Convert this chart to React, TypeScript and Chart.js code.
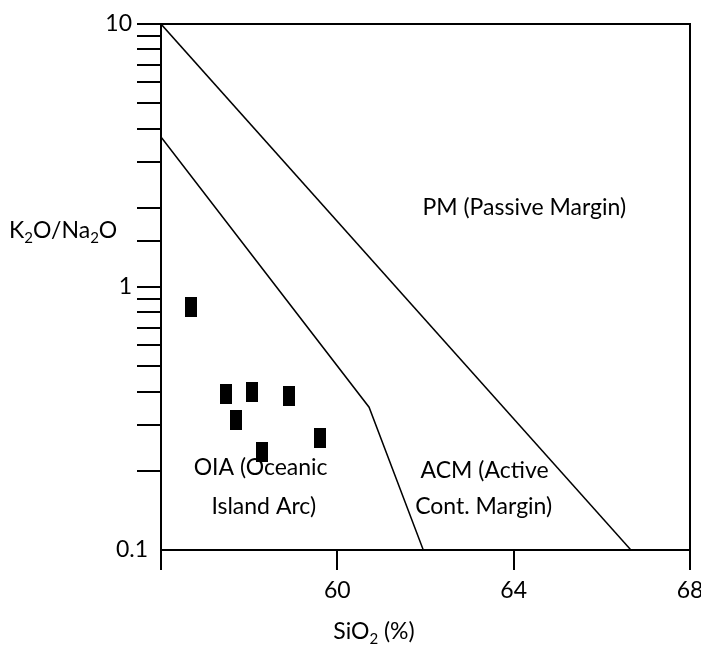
import React, { useEffect, useRef } from "react";
import { Chart, registerables } from "chart.js";

Chart.register(...registerables);

// Samples (SiO2 %, K2O/Na2O)
const sampleSiO2 = [56.68, 57.48, 58.07, 58.91, 57.71, 59.61, 58.3];
const sampleK2ONa2O = [0.841, 0.393, 0.4, 0.385, 0.312, 0.267, 0.236];

// Field boundaries
const pmBoundarySiO2 = [56, 66.66];
const pmBoundaryRatio = [10, 0.1];
const oiaBoundarySiO2 = [56, 60.72, 61.95];
const oiaBoundaryRatio = [3.72, 0.349, 0.1];

// Axes
const xMin = 56;
const xMax = 68;
const xTickValues = [56, 60, 64, 68];
const xTickLabels = ["", "60", "64", "68"];
const yMin = 0.1;
const yMax = 10;
const yLabelledTicks = [0.1, 1, 10];
const yTickLabels = ["0.1", "1", "10"];

// Field labels
const fieldLabels = ["PM (Passive Margin)", "OIA (Oceanic", "Island Arc)", "ACM (Active", "Cont. Margin)"];
const fieldLabelSiO2 = [64.24, 58.26, 58.33, 63.34, 63.32];
const fieldLabelRatio = [2.0, 0.205, 0.1457, 0.2, 0.1457];

const FONT = "Lato";
const FS = 23;

type Run = { t: string; sub?: boolean };

function drawRich(ctx: CanvasRenderingContext2D, runs: Run[], x: number, y: number, size: number, align: "left" | "center") {
  const subSize = Math.round(size * 0.65);
  let total = 0;
  for (const r of runs) {
    ctx.font = `${r.sub ? subSize : size}px ${FONT}`;
    total += ctx.measureText(r.t).width;
  }
  let cx = align === "center" ? x - total / 2 : x;
  ctx.textAlign = "left";
  ctx.textBaseline = "alphabetic";
  for (const r of runs) {
    ctx.font = `${r.sub ? subSize : size}px ${FONT}`;
    ctx.fillText(r.t, cx, r.sub ? y + size * 0.22 : y);
    cx += ctx.measureText(r.t).width;
  }
}

function makeRect(w: number, h: number) {
  const c = document.createElement("canvas");
  c.width = w;
  c.height = h;
  const g = c.getContext("2d")!;
  g.fillStyle = "#000";
  g.fillRect(0, 0, w, h);
  return c;
}

const overlayPlugin = {
  id: "overlay",
  afterDraw(chart: any) {
    const ctx: CanvasRenderingContext2D = chart.ctx;
    const a = chart.chartArea;
    const xs = chart.scales.x;
    const ys = chart.scales.y;
    ctx.save();
    // top and right frame
    ctx.strokeStyle = "#000";
    ctx.lineWidth = 2;
    ctx.beginPath();
    ctx.moveTo(a.left, a.top);
    ctx.lineTo(a.right, a.top);
    ctx.lineTo(a.right, a.bottom);
    ctx.stroke();
    ctx.fillStyle = "#000";
    // y tick labels (the lowest one sits closer to the axis, as there is no tick mark there)
    ctx.font = `${FS}px ${FONT}`;
    ctx.textAlign = "right";
    ctx.textBaseline = "middle";
    yLabelledTicks.forEach((v, i) => {
      const gap = i === 0 ? 13 : 29;
      ctx.fillText(yTickLabels[i], a.left - gap, ys.getPixelForValue(v));
    });
    // field labels
    ctx.textAlign = "center";
    fieldLabels.forEach((t, i) => {
      ctx.fillText(t, xs.getPixelForValue(fieldLabelSiO2[i]), ys.getPixelForValue(fieldLabelRatio[i]));
    });
    // axis titles
    drawRich(ctx, [{ t: "K" }, { t: "2", sub: true }, { t: "O/Na" }, { t: "2", sub: true }, { t: "O" }], 9, 238, FS, "left");
    drawRich(ctx, [{ t: "SiO" }, { t: "2", sub: true }, { t: " (%)" }], 374, 639, FS, "center");
    ctx.restore();
  },
};

export default function App() {
  const ref = useRef<HTMLCanvasElement>(null);

  useEffect(() => {
    const canvas = ref.current!;
    const box = makeRect(12, 20);
    const chart = new Chart(canvas, {
      type: "scatter",
      data: {
        datasets: [
          {
            label: "PM boundary",
            data: pmBoundarySiO2.map((x, i) => ({ x, y: pmBoundaryRatio[i] })),
            showLine: true,
            borderColor: "#000",
            borderWidth: 1.5,
            pointRadius: 0,
            tension: 0,
          },
          {
            label: "OIA boundary",
            data: oiaBoundarySiO2.map((x, i) => ({ x, y: oiaBoundaryRatio[i] })),
            showLine: true,
            borderColor: "#000",
            borderWidth: 1.5,
            pointRadius: 0,
            tension: 0,
          },
          {
            label: "Samples",
            data: sampleSiO2.map((x, i) => ({ x, y: sampleK2ONa2O[i] })),
            showLine: false,
            pointStyle: box as any,
            pointRadius: 10,
            backgroundColor: "#000",
            borderColor: "#000",
          },
        ],
      },
      options: {
        animation: false,
        responsive: false,
        devicePixelRatio: 1,
        layout: { padding: { top: 24, right: 10, left: 0, bottom: 0 } },
        plugins: { legend: { display: false }, tooltip: { enabled: false }, title: { display: false } },
        scales: {
          x: {
            type: "linear",
            min: xMin,
            max: xMax,
            afterBuildTicks: (scale: any) => {
              scale.ticks = xTickValues.map((v) => ({ value: v }));
            },
            afterFit: (scale: any) => {
              scale.height = 102;
              scale.paddingLeft = 0;
              scale.paddingRight = 0;
            },
            ticks: {
              autoSkip: false,
              maxRotation: 0,
              color: "#000",
              font: { family: FONT, size: FS },
              padding: 7,
              callback: (v: any) => {
                const i = xTickValues.indexOf(Number(v));
                return i >= 0 ? xTickLabels[i] : "";
              },
            },
            grid: { drawOnChartArea: false, drawTicks: true, tickLength: 20, color: "#000", lineWidth: 2 },
            border: { display: true, color: "#000", width: 2 },
          },
          y: {
            type: "logarithmic",
            min: yMin,
            max: yMax,
            afterFit: (scale: any) => {
              scale.width = 161;
            },
            ticks: {
              autoSkip: false,
              display: false,
            },
            grid: {
              drawOnChartArea: false,
              drawTicks: true,
              tickLength: 24,
              lineWidth: 2,
              color: (c: any) => (c.tick && Math.abs(c.tick.value - 0.1) < 1e-9 ? "rgba(0,0,0,0)" : "#000"),
            },
            border: { display: true, color: "#000", width: 2 },
          },
        },
      },
      plugins: [overlayPlugin],
    });
    return () => chart.destroy();
  }, []);

  return (
    <div style={{ position: "absolute", left: 0, top: 0, width: 701, height: 652, background: "#fff" }}>
      <canvas ref={ref} width={701} height={652} style={{ display: "block" }} />
    </div>
  );
}
